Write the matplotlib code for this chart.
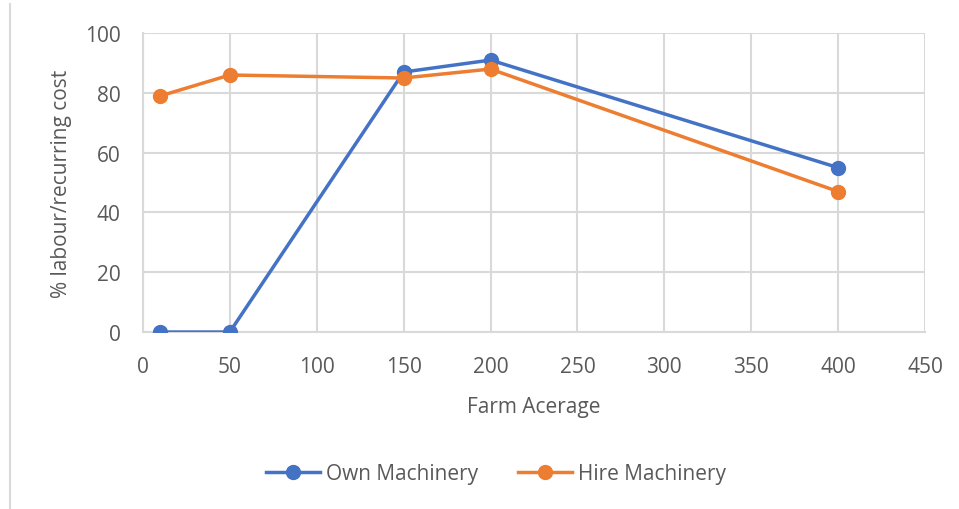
import matplotlib.pyplot as plt
from matplotlib.lines import Line2D

# Дані
acreage = [10, 50, 150, 200, 400]
own_machinery = [0, 0, 87, 91, 55]
hire_machinery = [79, 86, 85, 88, 47]

plt.rcParams['font.family'] = ['Open Sans', 'DejaVu Sans']
grey_text = '#595959'
grid_col = '#d9d9d9'

fig = plt.figure(figsize=(9.59, 5.10), dpi=100)
ax = fig.add_axes([0.149, 0.347, 0.8156, 0.586])

ax.plot(acreage, own_machinery, color='#4472c4', linewidth=2.5, marker='o',
        markersize=10, label="Own Machinery", zorder=3)
ax.plot(acreage, hire_machinery, color='#ed7d31', linewidth=2.5, marker='o',
        markersize=10, label="Hire Machinery", zorder=3)

ax.set_xlim(0, 450)
ax.set_ylim(0, 100)
ax.set_xticks(range(0, 451, 50))
ax.set_yticks(range(0, 101, 20))
ax.grid(True, color=grid_col, linewidth=1.5)
ax.set_axisbelow(True)
for side in ['top', 'right']:
    ax.spines[side].set_visible(False)
for side in ['left', 'bottom']:
    ax.spines[side].set_color(grid_col)
    ax.spines[side].set_linewidth(1.5)
ax.tick_params(length=0, labelsize=15, labelcolor=grey_text)
ax.tick_params(axis='x', pad=17)
ax.tick_params(axis='y', pad=16)

ax.set_xlabel("Farm Acerage", fontsize=15, color=grey_text, labelpad=14)
ax.set_ylabel("% labour/recurring cost", fontsize=15, color=grey_text, labelpad=9)

fig.legend(loc='center', bbox_to_anchor=(0.517, 0.07), ncol=2, frameon=False,
           fontsize=15, labelcolor=grey_text, handlelength=2.6, columnspacing=1.9,
           handletextpad=0.3)

# Сіра рамка зліва
fig.add_artist(Line2D([0.0105, 0.0105], [0.0, 0.99], color=grid_col, linewidth=1.5))

plt.savefig("out.png", dpi=100)
